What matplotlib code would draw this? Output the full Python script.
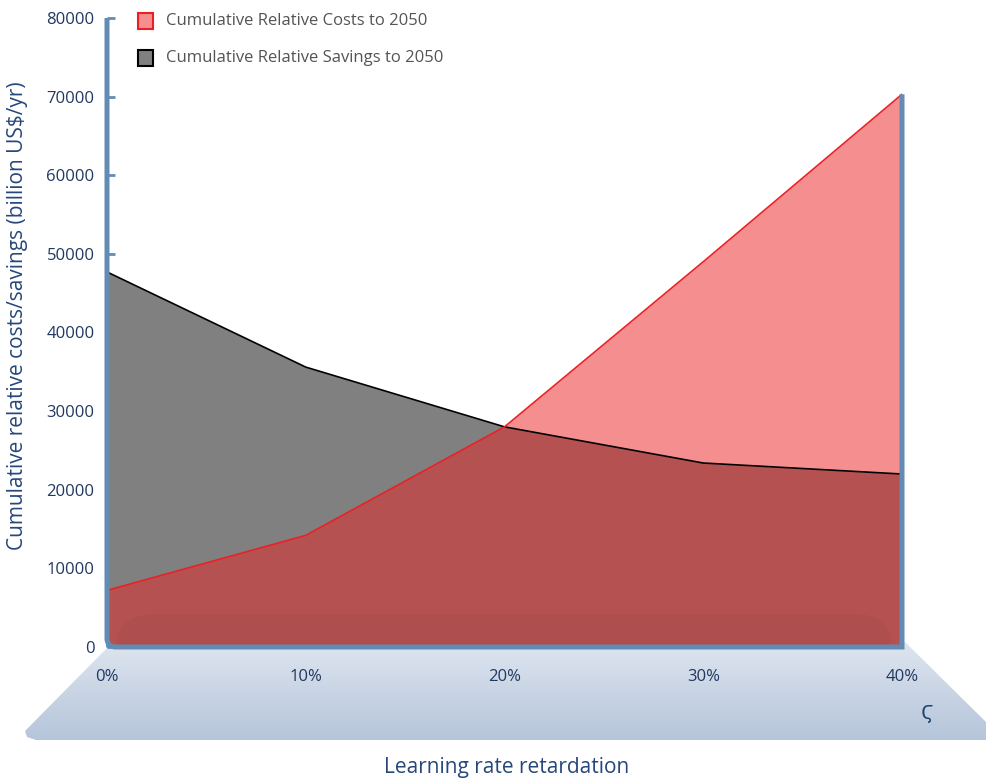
import matplotlib
matplotlib.use("Agg")
import matplotlib.pyplot as plt
import numpy as np
from matplotlib.patches import Polygon, FancyBboxPatch, Rectangle, PathPatch
from matplotlib.path import Path

# ---- data ----
retardation = [0, 10, 20, 30, 40]
x_tick_labels = ["0%", "10%", "20%", "30%", "40%"]
costs = [7200, 14200, 28000, 49000, 70300]
savings = [47700, 35600, 28000, 23400, 22000]
y_ticks = [0, 10000, 20000, 30000, 40000, 50000, 60000, 70000, 80000]

W, H = 986, 783
plt.rcParams['font.family'] = ['Open Sans', 'DejaVu Sans']
fig = plt.figure(figsize=(W / 100, H / 100), dpi=100)

navy = (0.13, 0.22, 0.38)
axis_blue = (0.39, 0.55, 0.71)
label_blue = (0.15, 0.28, 0.48)

# background axes in pixel coords for the floor trapezoid
bg = fig.add_axes([0, 0, 1, 1], zorder=0)
bg.set_xlim(0, W)
bg.set_ylim(H, 0)
bg.axis("off")
poly = Polygon([(107, 648), (905, 642), (986, 722), (986, 740), (36, 740),
                (27, 737), (25, 731)], closed=True, facecolor="none", edgecolor="none")
bg.add_patch(poly)
grad = np.linspace(0, 1, 256).reshape(-1, 1)
top_c = np.array([223, 230, 240]) / 255
bot_c = np.array([180, 196, 218]) / 255
img = top_c[None, None, :] * (1 - grad[:, :, None]) + bot_c[None, None, :] * grad[:, :, None]
im = bg.imshow(img, extent=(0, W, 742, 640), aspect="auto", zorder=1)
im.set_clip_path(poly)

# main axes
left_px, right_px, top_px, bot_px = 107, 902, 18, 647
ax = fig.add_axes([left_px / W, 1 - bot_px / H, (right_px - left_px) / W, (bot_px - top_px) / H], zorder=2)
ax.patch.set_alpha(0)
ax.set_xlim(0, 40)
ax.set_ylim(0, 80000)
for s in ax.spines.values():
    s.set_visible(False)

ax.fill_between(retardation, savings, 0, color=(0.50, 0.50, 0.50), zorder=2, linewidth=0)
ax.fill_between(retardation, costs, 0, color=(0.925, 0.14, 0.14), alpha=0.51, zorder=3, linewidth=0)
# subtle inner floor shading
ax.add_patch(FancyBboxPatch((0.5, -2000), 39.0, 6200, boxstyle="round,pad=0,rounding_size=2.0",
                            facecolor="black", alpha=0.035, edgecolor="none", zorder=4,
                            mutation_aspect=2000))
ax.plot(retardation, savings, color="black", lw=1.2, zorder=5)
ax.plot(retardation, costs, color=(0.93, 0.12, 0.14), lw=1.2, zorder=6)

# axis frame with rounded lower-left corner
rx, ry = 0.45, 1100
frame = Path([(0, 80000), (0, ry), (0, 0), (rx, 0), (40, 0), (40, costs[-1])],
             [Path.MOVETO, Path.LINETO, Path.CURVE3, Path.CURVE3, Path.LINETO, Path.LINETO])
ax.add_patch(PathPatch(frame, fill=False, edgecolor=axis_blue, lw=3.6, joinstyle="miter",
                       capstyle="butt", clip_on=False, zorder=7))

ax.set_xticks(retardation)
ax.set_xticklabels(x_tick_labels)
ax.set_yticks(y_ticks)
ax.set_yticklabels([str(v) for v in y_ticks])
ax.tick_params(axis="y", direction="in", length=6, width=2, color=axis_blue,
               labelsize=12, labelcolor=navy, pad=9)
ax.tick_params(axis="x", direction="in", length=6, width=2, color=axis_blue,
               labelsize=12, labelcolor=navy, pad=16)

# legend
lg = fig.add_axes([0, 0, 1, 1], zorder=3)
lg.set_xlim(0, W)
lg.set_ylim(H, 0)
lg.axis("off")
lg.add_patch(Rectangle((138, 13), 15, 16, facecolor=(0.96, 0.56, 0.56), edgecolor=(0.93, 0.12, 0.14), lw=1.5))
lg.add_patch(Rectangle((138, 50), 15, 16, facecolor=(0.50, 0.50, 0.50), edgecolor="black", lw=1.5))
lg.text(166, 21, "Cumulative Relative Costs to 2050", va="center", ha="left", fontsize=12, color=(0.33, 0.33, 0.33))
lg.text(166, 58, "Cumulative Relative Savings to 2050", va="center", ha="left", fontsize=12, color=(0.33, 0.33, 0.33))
lg.text(927, 714, "\u03da", va="center", ha="center", fontsize=14, color=(0.1, 0.25, 0.42))

fig.text(18 / W, 1 - 316 / H, "Cumulative relative costs/savings (billion US$/yr)",
         rotation=90, va="center", ha="center", fontsize=15, color=label_blue)
fig.text(507 / W, 1 - 767 / H, "Learning rate retardation", va="center", ha="center",
         fontsize=15, color=label_blue)

fig.savefig("out.png", dpi=100)
